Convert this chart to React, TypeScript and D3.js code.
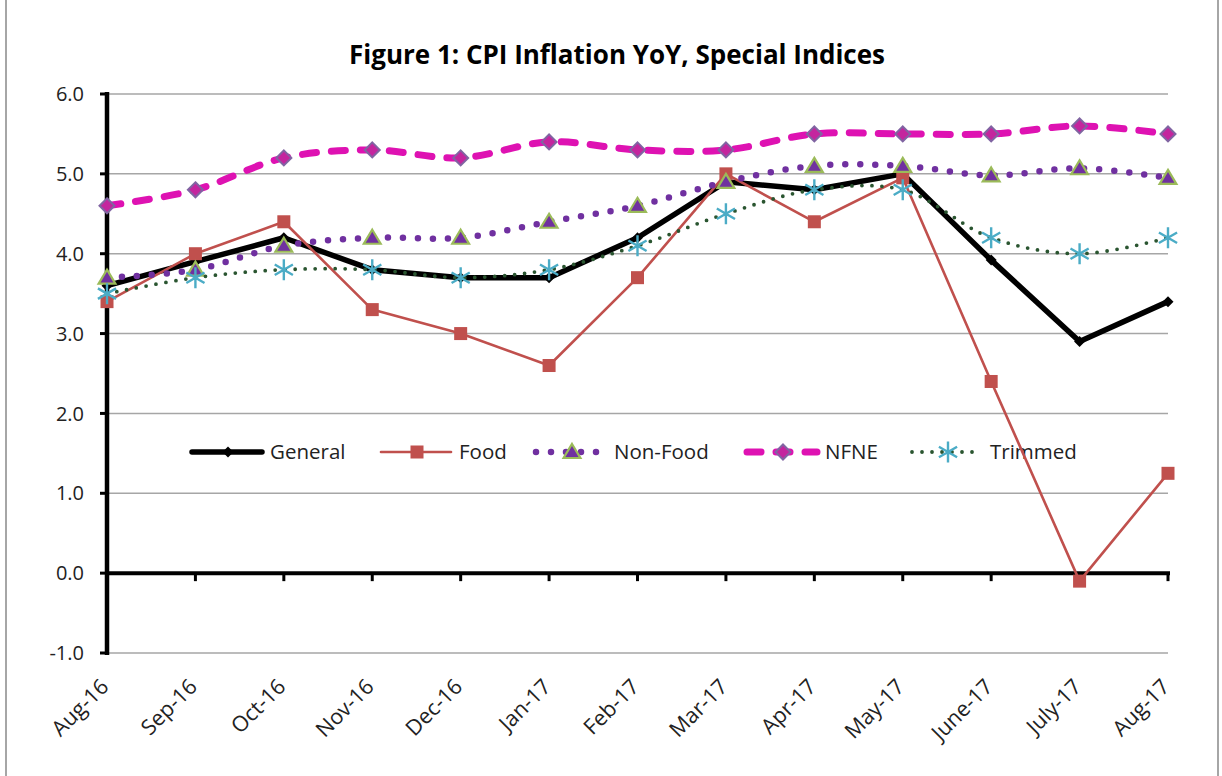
import React from 'react';
import * as d3 from 'd3';

const months = ['Aug-16', 'Sep-16', 'Oct-16', 'Nov-16', 'Dec-16', 'Jan-17', 'Feb-17', 'Mar-17', 'Apr-17', 'May-17', 'June-17', 'July-17', 'Aug-17'];
const general = [3.6, 3.9, 4.2, 3.8, 3.7, 3.7, 4.2, 4.9, 4.8, 5.0, 3.92, 2.9, 3.4];
const food = [3.4, 4.0, 4.4, 3.3, 3.0, 2.6, 3.7, 5.0, 4.4, 4.95, 2.4, -0.1, 1.25];
const nonFood = [3.7, 3.8, 4.1, 4.2, 4.2, 4.4, 4.6, 4.9, 5.1, 5.1, 4.98, 5.07, 4.95];
const nfne = [4.6, 4.8, 5.2, 5.3, 5.2, 5.4, 5.3, 5.3, 5.5, 5.5, 5.5, 5.6, 5.5];
const trimmed = [3.5, 3.7, 3.8, 3.8, 3.7, 3.8, 4.1, 4.5, 4.8, 4.8, 4.2, 4.0, 4.2];
const yTicks = [-1, 0, 1, 2, 3, 4, 5, 6];

const FONT = '"Open Sans", "DejaVu Sans", sans-serif';

const x = d3.scalePoint<string>().domain(months).range([107, 1168]);
const y = d3.scaleLinear().domain([-1, 6]).range([653, 94]);

const diamond = (r: number) => `M0,${-r}L${r},0L0,${r}L${-r},0Z`;
const triangle = (r: number) => `M0,${-r}L${r * 1.05},${r * 0.75}L${-r * 1.05},${r * 0.75}Z`;
const star = (r: number) => {
  const d = r * 0.866;
  return `M0,${-r}L0,${r}M${-d},${-r / 2}L${d},${r / 2}M${-d},${r / 2}L${d},${-r / 2}`;
};

type Marker = (k: string) => JSX.Element;

const markers: Record<string, Marker> = {
  general: k => <path key={k} d={diamond(5.5)} fill="#000" />,
  food: k => <rect key={k} x={-6.5} y={-6.5} width={13} height={13} fill="#C0504D" />,
  nonFood: k => <path key={k} d={triangle(8)} fill="#7030A0" stroke="#9BBB59" strokeWidth={2.2} />,
  nfne: k => <path key={k} d={diamond(7.5)} fill="#C4259E" stroke="#8064A2" strokeWidth={2} />,
  trimmed: k => <path key={k} d={star(10.5)} fill="none" stroke="#4BACC6" strokeWidth={2.4} />,
};

const series = [
  { key: 'general', name: 'General', values: general, stroke: '#000', width: 5.5, dash: undefined, curve: d3.curveLinear, legendX: 192 },
  { key: 'food', name: 'Food', values: food, stroke: '#C0504D', width: 2.6, dash: undefined, curve: d3.curveLinear, legendX: 381 },
  { key: 'nonFood', name: 'Non-Food', values: nonFood, stroke: '#7030A0', width: 6.5, dash: '0 15', curve: d3.curveCatmullRom.alpha(0.5), legendX: 536 },
  { key: 'nfne', name: 'NFNE', values: nfne, stroke: '#DE12B2', width: 7, dash: '14 15', curve: d3.curveCatmullRom.alpha(0.5), legendX: 747 },
  { key: 'trimmed', name: 'Trimmed', values: trimmed, stroke: '#2A5530', width: 3.8, dash: '0 10', curve: d3.curveCatmullRom.alpha(0.5), legendX: 912 },
];

const App = () => {
  const legendY = 452;
  return (
    <svg width={1222} height={776} style={{ position: 'absolute', left: 0, top: 0, background: '#fff' }}>
      <rect x={6} y={-10} width={1212} height={800} fill="#fff" stroke="#A6A6A6" strokeWidth={2} />
      <text x={617} y={64} textAnchor="middle" fontFamily={FONT} fontWeight="bold" fontSize={26} fill="#000">
        Figure 1: CPI Inflation YoY, Special Indices
      </text>

      {/* grid */}
      {yTicks.filter(t => t !== 0).map(t => (
        <line key={t} x1={107} x2={1168} y1={y(t)} y2={y(t)} stroke="#A6A6A6" strokeWidth={1.5} />
      ))}

      {/* y axis */}
      <line x1={107} x2={107} y1={y(6) - 2} y2={y(-1) + 2} stroke="#000" strokeWidth={4.5} />
      {yTicks.map(t => (
        <g key={t}>
          <line x1={100} x2={107} y1={y(t)} y2={y(t)} stroke="#000" strokeWidth={3} />
          <text x={84} y={y(t)} dy="0.36em" textAnchor="end" fontFamily={FONT} fontSize={20} fill="#222">
            {t.toFixed(1)}
          </text>
        </g>
      ))}

      {/* x axis */}
      <line x1={107} x2={1170} y1={y(0)} y2={y(0)} stroke="#000" strokeWidth={4} />
      {months.map(m => (
        <g key={m}>
          <line x1={x(m)} x2={x(m)} y1={y(0)} y2={y(0) + 8} stroke="#000" strokeWidth={3} />
          <text
            transform={`translate(${(x(m) as number) + 3},${688}) rotate(-45)`}
            textAnchor="end"
            fontFamily={FONT}
            fontSize={21.5}
            fill="#222"
          >
            {m}
          </text>
        </g>
      ))}

      {/* legend */}
      {series.map(s => {
        const cx = s.legendX + 36;
        return (
          <g key={s.key}>
            <line x1={s.legendX} x2={s.legendX + 70} y1={legendY} y2={legendY} stroke={s.stroke} strokeWidth={s.width}
              strokeDasharray={s.dash} strokeLinecap="round" />
            <g transform={`translate(${cx},${legendY})`}>{markers[s.key]('m')}</g>
            <text x={s.legendX + 78} y={legendY} dy="0.36em" fontFamily={FONT} fontSize={20.5} fill="#222">
              {s.name}
            </text>
          </g>
        );
      })}

      {/* series */}
      {series.map(s => {
        const line = d3
          .line<number>()
          .x((_, i) => x(months[i]) as number)
          .y(v => y(v))
          .curve(s.curve);
        return (
          <g key={s.key}>
            <path d={line(s.values) || ''} fill="none" stroke={s.stroke} strokeWidth={s.width}
              strokeDasharray={s.dash} strokeLinecap="round" strokeLinejoin="round" />
            {s.values.map((v, i) => (
              <g key={i} transform={`translate(${x(months[i])},${y(v)})`}>{markers[s.key](String(i))}</g>
            ))}
          </g>
        );
      })}
    </svg>
  );
};

export default App;
